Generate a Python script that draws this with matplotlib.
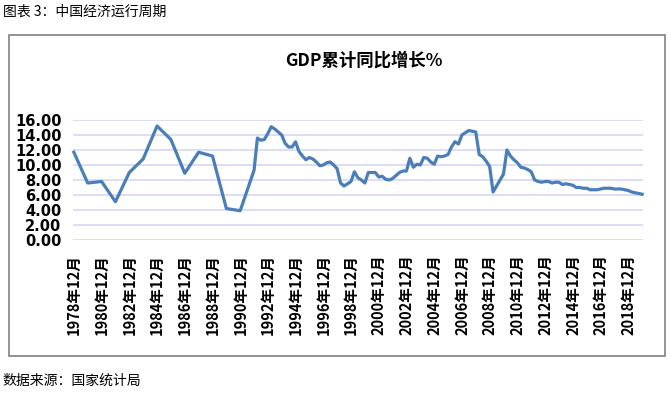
import matplotlib
matplotlib.use("Agg")
import matplotlib.pyplot as plt
import matplotlib.patches as patches
from datetime import datetime

plt.rcParams['font.family'] = ['Noto Sans CJK SC', 'DejaVu Sans']

# annual data 1978-1991
annual_years = list(range(1978, 1992))
annual_values = [11.7, 7.6, 7.8, 5.1, 9.0, 10.8, 15.2, 13.4, 8.9, 11.7, 11.2, 4.2, 3.9, 9.3]

# quarterly cumulative data 1992-2019 (Q1..Q4 per year)
quarter_years = list(range(1992, 2020))
quarter_values = [
    13.6, 13.3, 13.4, 14.2,   # 1992
    15.1, 14.8, 14.4, 14.0,   # 1993
    12.9, 12.4, 12.4, 13.1,   # 1994
    11.8, 11.2, 10.7, 11.0,   # 1995
    10.8, 10.4, 9.9, 10.0,    # 1996
    10.3, 10.4, 10.0, 9.5,    # 1997
    7.6, 7.2, 7.5, 7.8,       # 1998
    9.1, 8.3, 8.0, 7.6,       # 1999
    9.0, 9.0, 9.0, 8.4,       # 2000
    8.5, 8.1, 8.0, 8.2,       # 2001
    8.6, 9.0, 9.2, 9.2,       # 2002
    10.9, 9.7, 10.1, 10.0,    # 2003
    11.0, 10.9, 10.4, 10.1,   # 2004
    11.2, 11.1, 11.2, 11.4,   # 2005
    12.4, 13.1, 12.8, 14.0,   # 2006
    14.3, 14.6, 14.5, 14.4,   # 2007
    11.4, 11.1, 10.5, 9.8,    # 2008
    6.4, 7.2, 8.0, 8.8,       # 2009
    12.0, 11.2, 10.7, 10.3,   # 2010
    9.7, 9.6, 9.4, 9.1,       # 2011
    8.0, 7.8, 7.7, 7.8,       # 2012
    7.8, 7.6, 7.7, 7.7,       # 2013
    7.4, 7.5, 7.4, 7.3,       # 2014
    7.0, 7.0, 6.9, 6.9,       # 2015
    6.7, 6.7, 6.7, 6.8,       # 2016
    6.9, 6.9, 6.9, 6.8,       # 2017
    6.8, 6.8, 6.7, 6.6,       # 2018
    6.4, 6.3, 6.2, 6.1,       # 2019
]

tick_years = list(range(1978, 2019, 2))
y_ticks = [0, 2, 4, 6, 8, 10, 12, 14, 16]

dates = [datetime(y, 12, 31) for y in annual_years]
for y in quarter_years:
    for m in (3, 6, 9, 12):
        dates.append(datetime(y, m, 28))
values = annual_values + quarter_values

fig = plt.figure(figsize=(6.71, 3.94), dpi=100)
W, H = 671, 394

# outer frame
fig.patches.append(patches.Rectangle((9 / W, 1 - 356 / H), 656 / W, 321 / H,
                                     transform=fig.transFigure, fill=False,
                                     edgecolor='#808080', lw=1.2))

ax = fig.add_axes([72.7 / W, 1 - 240 / H, (643 - 72.7) / W, 120 / H])
ax.plot(dates, values, color='#4a7ebb', lw=2.3, solid_joinstyle='round', clip_on=False)

ax.set_xlim(datetime(1978, 12, 1), datetime(2020, 1, 20))
ax.set_ylim(0, 16)
ax.set_yticks(y_ticks)
ax.set_yticklabels([f"{v:.2f}" for v in y_ticks], fontweight='bold', fontsize=10.5,
                   family=['DejaVu Sans'])
ax.set_xticks([datetime(y, 12, 31) for y in tick_years])
ax.set_xticklabels([f"{y}年12月" for y in tick_years], rotation=90, fontsize=10.5,
                   fontweight='bold')
ax.tick_params(length=0)
ax.tick_params(axis='y', pad=8)
ax.tick_params(axis='x', pad=10)
ax.grid(axis='y', color='#dadaf5', lw=1.3)
ax.set_axisbelow(True)
for s in ax.spines.values():
    s.set_visible(False)

fig.text(364 / W, 1 - 61 / H, "GDP累计同比增长%", ha='center', va='center',
         fontsize=12.5, fontweight='bold')
fig.text(3 / W, 1 - 12 / H, "图表 3：中国经济运行周期", ha='left', va='center', fontsize=10)
fig.text(2 / W, 1 - 381 / H, "数据来源：国家统计局", ha='left', va='center', fontsize=10)

fig.savefig("out.png", dpi=100)
